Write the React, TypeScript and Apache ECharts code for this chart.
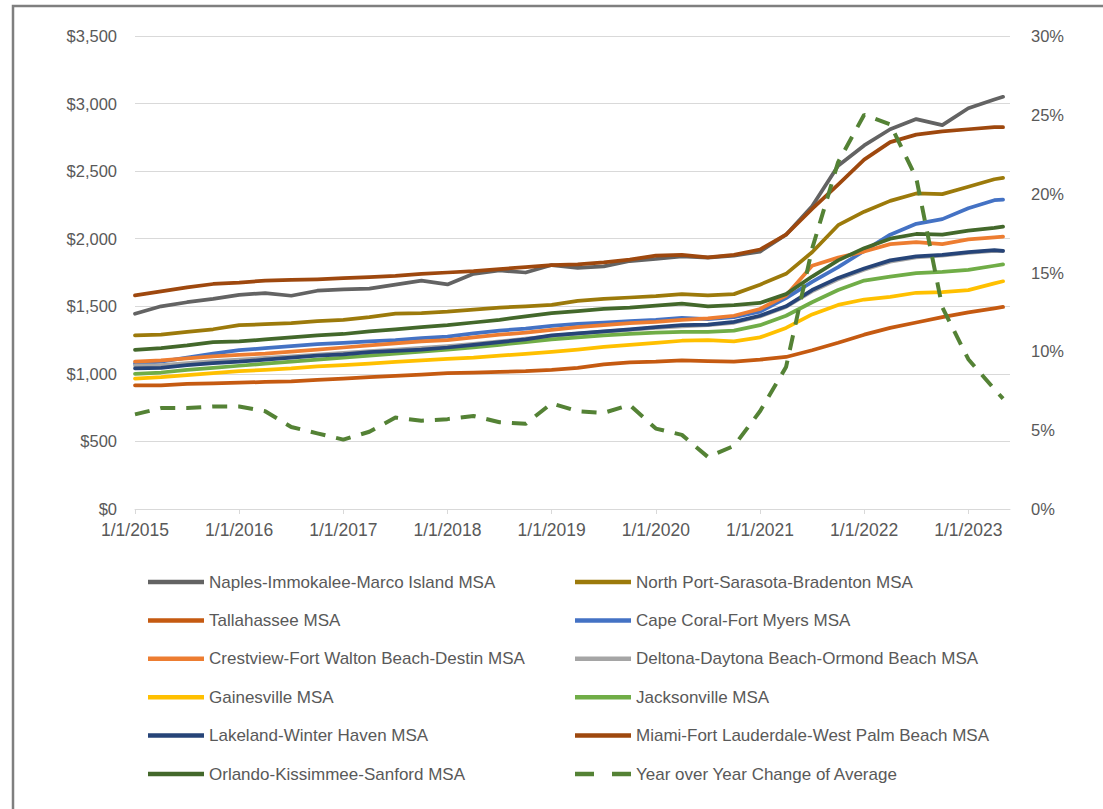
import React, { useEffect, useRef } from "react";
import * as echarts from "echarts";

// Quarterly observation dates (plus the final month shown)
const dates = [
  "2015-01", "2015-04", "2015-07", "2015-10",
  "2016-01", "2016-04", "2016-07", "2016-10",
  "2017-01", "2017-04", "2017-07", "2017-10",
  "2018-01", "2018-04", "2018-07", "2018-10",
  "2019-01", "2019-04", "2019-07", "2019-10",
  "2020-01", "2020-04", "2020-07", "2020-10",
  "2021-01", "2021-04", "2021-07", "2021-10",
  "2022-01", "2022-04", "2022-07", "2022-10",
  "2023-01", "2023-04", "2023-05",
];

const naples = [1445, 1500, 1530, 1555, 1585, 1598, 1578, 1615, 1625, 1630, 1660, 1690, 1662, 1740, 1765, 1750, 1805, 1785, 1795, 1835, 1850, 1870, 1860, 1875, 1905, 2030, 2240, 2540, 2690, 2810, 2885, 2840, 2965, 3030, 3050];
const northPort = [1285, 1290, 1310, 1330, 1360, 1368, 1375, 1390, 1400, 1420, 1445, 1450, 1460, 1475, 1490, 1500, 1510, 1540, 1555, 1565, 1575, 1590, 1580, 1590, 1660, 1740, 1900, 2100, 2200, 2280, 2335, 2330, 2385, 2440, 2450];
const tallahassee = [915, 915, 925, 930, 935, 940, 945, 955, 965, 975, 985, 995, 1005, 1010, 1015, 1020, 1030, 1045, 1070, 1085, 1090, 1100, 1095, 1090, 1105, 1125, 1175, 1230, 1290, 1340, 1380, 1420, 1455, 1485, 1495];
const capeCoral = [1075, 1090, 1120, 1150, 1175, 1190, 1205, 1220, 1230, 1240, 1250, 1265, 1275, 1300, 1320, 1335, 1355, 1370, 1380, 1390, 1400, 1415, 1405, 1420, 1460, 1560, 1680, 1790, 1910, 2030, 2110, 2145, 2225, 2285, 2290];
const crestview = [1090, 1100, 1115, 1130, 1140, 1150, 1165, 1180, 1195, 1210, 1225, 1240, 1250, 1270, 1290, 1305, 1325, 1345, 1360, 1375, 1385, 1400, 1410, 1430, 1480, 1580, 1800, 1860, 1905, 1960, 1975, 1960, 1995, 2010, 2015];
const deltona = [1060, 1065, 1080, 1095, 1105, 1118, 1130, 1143, 1155, 1168, 1180, 1192, 1205, 1222, 1240, 1260, 1280, 1298, 1312, 1325, 1340, 1352, 1360, 1378, 1425, 1495, 1610, 1700, 1770, 1830, 1862, 1875, 1895, 1910, 1908];
const gainesville = [965, 975, 990, 1005, 1020, 1030, 1040, 1055, 1065, 1075, 1088, 1100, 1110, 1120, 1135, 1148, 1162, 1180, 1200, 1215, 1230, 1245, 1250, 1240, 1270, 1340, 1440, 1510, 1550, 1570, 1600, 1605, 1620, 1670, 1685];
const jacksonville = [1000, 1010, 1030, 1045, 1060, 1075, 1090, 1105, 1120, 1135, 1150, 1165, 1180, 1195, 1215, 1235, 1255, 1270, 1285, 1295, 1305, 1310, 1310, 1320, 1360, 1430, 1530, 1620, 1690, 1720, 1745, 1755, 1770, 1800, 1810];
const lakeland = [1040, 1045, 1065, 1080, 1090, 1105, 1120, 1135, 1145, 1160, 1170, 1180, 1195, 1215, 1235, 1255, 1285, 1300, 1315, 1330, 1345, 1360, 1365, 1385, 1430, 1500, 1620, 1710, 1780, 1840, 1870, 1880, 1900, 1915, 1910];
const miami = [1580, 1610, 1640, 1665, 1675, 1690, 1695, 1700, 1708, 1715, 1725, 1740, 1750, 1760, 1775, 1790, 1805, 1810, 1825, 1845, 1875, 1880, 1862, 1880, 1920, 2030, 2220, 2400, 2585, 2715, 2770, 2795, 2810, 2825, 2825];
const orlando = [1177, 1190, 1210, 1235, 1240, 1255, 1270, 1285, 1295, 1315, 1330, 1345, 1360, 1380, 1400, 1425, 1450, 1465, 1480, 1490, 1505, 1520, 1500, 1508, 1525, 1590, 1720, 1840, 1930, 2000, 2035, 2030, 2060, 2080, 2090];
// Year over year change of average, in percent
const yoyChange = [6.0, 6.4, 6.4, 6.5, 6.5, 6.2, 5.2, 4.8, 4.4, 4.9, 5.8, 5.6, 5.7, 5.9, 5.5, 5.4, 6.7, 6.2, 6.1, 6.6, 5.1, 4.7, 3.3, 4.0, 6.2, 9.0, 16.5, 22.0, 25.0, 24.4, 21.0, 12.8, 9.5, 7.6, 7.0];

const seriesNames = [
  "Naples-Immokalee-Marco Island MSA",
  "North Port-Sarasota-Bradenton MSA",
  "Tallahassee MSA",
  "Cape Coral-Fort Myers MSA",
  "Crestview-Fort Walton Beach-Destin MSA",
  "Deltona-Daytona Beach-Ormond Beach MSA",
  "Gainesville MSA",
  "Jacksonville MSA",
  "Lakeland-Winter Haven MSA",
  "Miami-Fort Lauderdale-West Palm Beach MSA",
  "Orlando-Kissimmee-Sanford MSA",
];
const yoyName = "Year over Year Change of Average";
const seriesValues = [naples, northPort, tallahassee, capeCoral, crestview, deltona, gainesville, jacksonville, lakeland, miami, orlando];
const seriesColors = ["#636363", "#9C7A0B", "#C55A11", "#4472C4", "#ED7D31", "#A5A5A5", "#FFC000", "#70AD47", "#264478", "#9E480E", "#43682B"];
const yoyColor = "#548235";

const leftAxisTicks = [0, 3500, 500];
const rightAxisTicks = [0, 30, 5];

const FONT = "'Liberation Sans', Arial, sans-serif";
const TEXT = "#595959";
const GRID = "#d9d9d9";

const toYear = (d: string) => {
  const [y, m] = d.split("-").map(Number);
  return y + (m - 1) / 12;
};

export default function App() {
  const ref = useRef<HTMLDivElement>(null);
  useEffect(() => {
    if (!ref.current) return;
    const chart = echarts.init(ref.current, null, { renderer: "svg" });
    const mk = (vals: number[]) => vals.map((v, i) => [toYear(dates[i]), v]);

    const series: any[] = seriesNames.map((name, i) => ({
      name,
      type: "line",
      data: mk(seriesValues[i]),
      symbol: "none",
      yAxisIndex: 0,
      lineStyle: { color: seriesColors[i], width: 3.75, cap: "round", join: "round" },
      itemStyle: { color: seriesColors[i] },
    }));
    series.push({
      name: yoyName,
      type: "line",
      data: mk(yoyChange),
      symbol: "none",
      yAxisIndex: 1,
      lineStyle: { color: yoyColor, width: 4, type: [15, 11] },
      itemStyle: { color: yoyColor },
    });

    const lineIcon = "path://M0,0h56v4.5h-56z";
    const dashIcon = "path://M0,0h19v4.5h-19z M37,0h19v4.5h-19z";
    const leftNames = [0, 2, 4, 6, 8, 10].map((i) => ({ name: seriesNames[i], icon: lineIcon }));
    const rightNames: any[] = [1, 3, 5, 7, 9].map((i) => ({ name: seriesNames[i], icon: lineIcon }));
    rightNames.push({ name: yoyName, icon: dashIcon });

    const legendBase = {
      orient: "vertical",
      top: 567,
      itemWidth: 56,
      itemHeight: 4.5,
      itemGap: 18.4,
      symbolKeepAspect: false,
      textStyle: { fontSize: 17, color: TEXT, fontFamily: FONT, lineHeight: 20 },
    };

    chart.setOption({
      animation: false,
      backgroundColor: "#ffffff",
      textStyle: { fontFamily: FONT },
      grid: { left: 135, right: 93, top: 36, bottom: 300, containLabel: false },
      graphic: [
        {
          type: "rect",
          x: 13,
          y: 6,
          shape: { x: 0, y: 0, width: 1200, height: 900 },
          style: { fill: "none", stroke: "#7f7f7f", lineWidth: 2.5 },
          silent: true,
          z: -10,
        },
      ],
      legend: [
        { ...legendBase, left: 143, data: leftNames },
        { ...legendBase, left: 570, data: rightNames },
      ],
      xAxis: {
        type: "value",
        min: 2015,
        max: 2023.4,
        interval: 1,
        axisLine: { show: true, lineStyle: { color: GRID, width: 1 } },
        axisTick: { show: true, length: 5, lineStyle: { color: GRID } },
        splitLine: { show: false },
        axisLabel: {
          fontSize: 17.5,
          color: TEXT,
          fontFamily: FONT,
          margin: 12,
          showMaxLabel: false,
          formatter: (v: number) => (Math.abs(v - Math.round(v)) < 1e-6 ? `1/1/${Math.round(v)}` : ""),
        },
      },
      yAxis: [
        {
          type: "value",
          min: leftAxisTicks[0],
          max: leftAxisTicks[1],
          interval: leftAxisTicks[2],
          axisLine: { show: false },
          axisTick: { show: false },
          splitLine: { show: true, lineStyle: { color: GRID, width: 1 } },
          axisLabel: {
            fontSize: 16.5,
            color: TEXT,
            fontFamily: FONT,
            margin: 18,
            formatter: (v: number) => "$" + v.toLocaleString("en-US"),
          },
        },
        {
          type: "value",
          position: "right",
          min: rightAxisTicks[0],
          max: rightAxisTicks[1],
          interval: rightAxisTicks[2],
          axisLine: { show: false },
          axisTick: { show: false },
          splitLine: { show: false },
          axisLabel: {
            fontSize: 16.5,
            color: TEXT,
            fontFamily: FONT,
            margin: 21,
            formatter: (v: number) => `${Math.round(v)}%`,
          },
        },
      ],
      series,
    });
    return () => chart.dispose();
  }, []);
  return (
    <div
      ref={ref}
      style={{ position: "fixed", left: 0, top: 0, width: 1103, height: 809, background: "#ffffff" }}
    />
  );
}
